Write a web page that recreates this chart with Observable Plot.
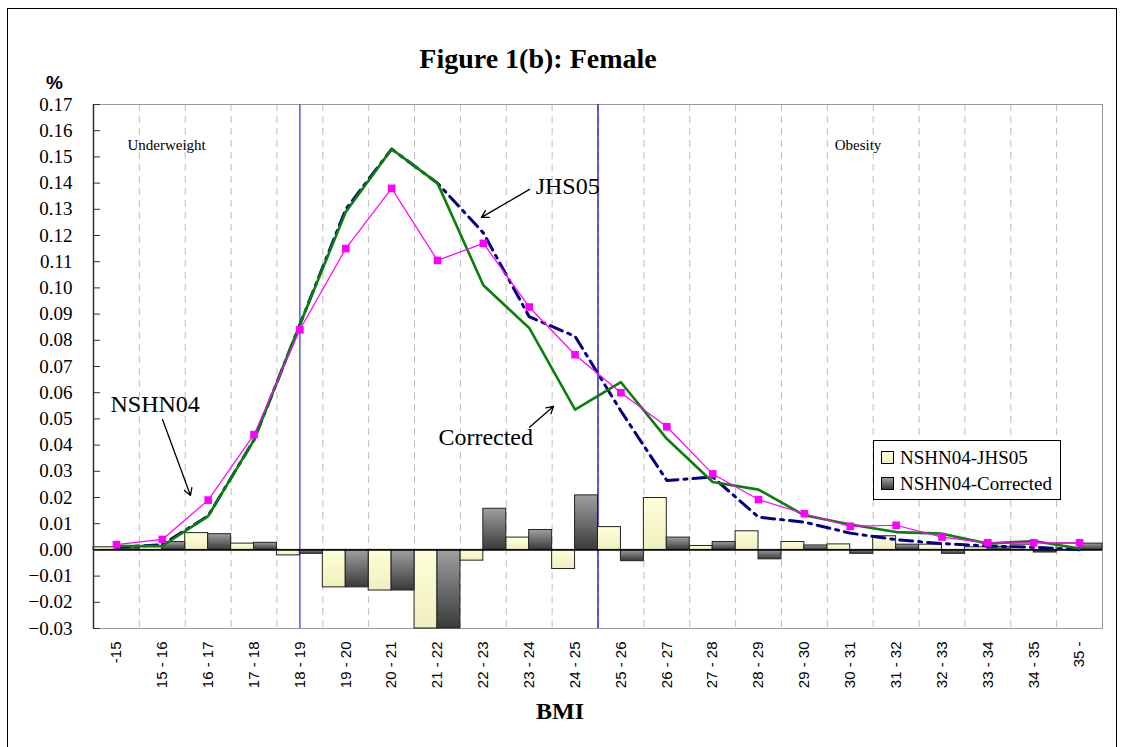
<!DOCTYPE html>
<html><head><meta charset="utf-8">
<script src="https://cdn.jsdelivr.net/npm/d3@7"></script>
<script src="https://cdn.jsdelivr.net/npm/@observablehq/plot@0.6"></script>
<style>
body{margin:0;background:#fff;overflow:hidden;}
#wrap{position:relative;width:1122px;height:747px;overflow:hidden;font-family:"Liberation Serif","Times New Roman",serif;background:#fff;}
#chart{position:absolute;left:0;top:0;}
#border{position:absolute;left:7px;top:8px;width:1110px;height:800px;border:1px solid #000;box-sizing:border-box;pointer-events:none;}
#title{position:absolute;left:0;width:1076px;top:43px;text-align:center;font-weight:bold;font-size:28px;line-height:32px;}
#pct{position:absolute;left:46px;top:72px;font-family:"Liberation Sans",Arial,sans-serif;font-weight:bold;font-size:19px;}
#legend{position:absolute;left:873px;top:440px;width:188px;height:60px;border:1px solid #000;background:#fff;box-sizing:border-box;font-size:19px;}
.li{position:absolute;left:7px;height:24px;line-height:24px;white-space:nowrap;}
.sw{display:inline-block;width:11px;height:11px;border:1px solid #000;vertical-align:middle;margin-right:6px;position:relative;top:-2px;}
</style></head>
<body>
<div id="wrap">
  <div id="chart"></div>
  <div id="title">Figure 1(b): Female</div>
  <div id="pct">%</div>
  <div id="legend">
    <div class="li" style="top:5px"><span class="sw" style="background:linear-gradient(#ffffd8,#efefc0)"></span>NSHN04-JHS05</div>
    <div class="li" style="top:31px"><span class="sw" style="background:linear-gradient(#a0a0a0,#3a3a3a)"></span>NSHN04-Corrected</div>
  </div>
  <div id="border"></div>
</div>
<script>
const categories = ["-15","15 - 16","16 - 17","17 - 18","18 - 19","19 - 20","20 - 21","21 - 22","22 - 23","23 - 24","24 - 25","25 - 26","26 - 27","27 - 28","28 - 29","29 - 30","30 - 31","31 - 32","32 - 33","33 - 34","34 - 35","35 -"];
const nshn04    = [0.002,0.004,0.019,0.044,0.084,0.115,0.138,0.1105,0.117,0.0927,0.0745,0.060,0.047,0.029,0.0192,0.0138,0.009,0.0094,0.0049,0.0027,0.0027,0.0027];
const corrected = [0.0015,0.0015,0.0129,0.042,0.086,0.129,0.153,0.140,0.101,0.0847,0.0535,0.064,0.0424,0.0259,0.023,0.0132,0.0097,0.0068,0.0062,0.0024,0.0034,0.0005];
const jhs05     = [0.001,0.002,0.013,0.042,0.086,0.130,0.153,0.140,0.121,0.089,0.0815,0.053,0.0265,0.0278,0.0125,0.0106,0.0064,0.0039,0.0024,0.0015,0.001,0.0001];
const diffJHS   = [0.001,0.001,0.0064,0.0024,-0.0021,-0.0143,-0.0155,-0.03,-0.0041,0.0047,-0.0073,0.0087,0.0198,0.0015,0.0071,0.003,0.0021,0.0052,0.002,0.001,0.002,0.0024];
const diffCorr  = [0.0012,0.003,0.006,0.0027,-0.0015,-0.0143,-0.0155,-0.03,0.0157,0.0076,0.0208,-0.0043,0.0047,0.003,-0.0036,0.0017,-0.0015,0.002,-0.0015,0.0012,-0.001,0.0024];
const yTicks = [-0.03,-0.02,-0.01,0,0.01,0.02,0.03,0.04,0.05,0.06,0.07,0.08,0.09,0.10,0.11,0.12,0.13,0.14,0.15,0.16,0.17];
// BMI cut-offs 18.5 and 25 expressed in category-index units
const cutoffs = [{pos:4.5, color:"#4a4aff"},{pos:11, color:"#1c1cd0"}];
const labelsSmall = [{label:"Underweight", x:0.74, y:0.1545},{label:"Obesity", x:16.16, y:0.1545}];
const labelsBig = [{label:"JHS05", x:9.64, y:0.1387},{label:"NSHN04", x:0.37, y:0.0555},{label:"Corrected", x:7.52, y:0.0429}];
const arrows = [{x1:9.507,y1:0.1376,x2:8.46,y2:0.1269},{x1:1.505,y1:0.0498,x2:2.115,y2:0.0208},{x1:9.507,y1:0.0468,x2:10.03,y2:0.0548}];

const rows = categories.map((c,i)=>({i, cat:c, nshn04:nshn04[i], corrected:corrected[i], jhs05:jhs05[i], dJ:diffJHS[i], dC:diffCorr[i]}));
const cx = d => d.i + 0.5;
const serif = "Liberation Serif, Times New Roman, serif";

const chart = Plot.plot({
  width:1122, height:747,
  marginLeft:93, marginRight:20, marginTop:104, marginBottom:119,
  x:{domain:[0,categories.length]},
  y:{domain:[-0.03,0.17]},
  style:{fontFamily:serif, background:"transparent", color:"#000"},
  marks:[
    Plot.ruleX(d3.range(1,categories.length), {stroke:"#bdbdbd", strokeDasharray:"7,5", strokeWidth:1}),
    Plot.frame({stroke:"#999"}),
    Plot.ruleX(cutoffs, {x:"pos", stroke:"color", strokeWidth:1.4}),
    Plot.rect(rows, {x1:d=>d.i, x2:d=>d.i+0.5, y1:0, y2:"dJ", fill:"url(#gYellow)", stroke:"#222", strokeWidth:1}),
    Plot.rect(rows, {x1:d=>d.i+0.5, x2:d=>d.i+1, y1:0, y2:"dC", fill:"url(#gDark)", stroke:"#222", strokeWidth:1}),
    Plot.ruleY([0], {stroke:"#000", strokeWidth:1.5}),
    Plot.ruleX([0], {stroke:"#333", strokeWidth:1.5}),
    Plot.line(rows, {x:cx, y:"jhs05", stroke:"#000080", strokeWidth:3, strokeDasharray:"13,6,3,6"}),
    Plot.line(rows, {x:cx, y:"corrected", stroke:"#0b7f0b", strokeWidth:2.6}),
    Plot.line(rows, {x:cx, y:"nshn04", stroke:"#ff00ff", strokeWidth:1.2}),
    Plot.dot(rows, {x:cx, y:"nshn04", symbol:"square", r:4.3, fill:"#ff00ff", stroke:"none"}),
    Plot.axisY({ticks:yTicks, tickFormat:d3.format(".2f"), tickSize:0, tickPadding:21, fontSize:19, fontFamily:serif, label:null}),
    Plot.axisY({ticks:yTicks, tickFormat:()=>"", tickSize:7, dx:7, label:null, stroke:"#333"}),
    Plot.axisX({ticks:rows.map(cx), tickFormat:d=>categories[Math.floor(d)], tickRotate:-90, tickSize:0, tickPadding:13, fontSize:15, fontFamily:"Liberation Sans, Arial, sans-serif", label:null}),
    Plot.text(["BMI"], {frameAnchor:"bottom", dx:-38, dy:90, text:d=>d, fontSize:24, fontWeight:"bold", fontFamily:serif}),
    Plot.text(labelsSmall, {x:"x", y:"y", text:"label", textAnchor:"start", fontSize:15, fontFamily:serif}),
    Plot.text(labelsBig, {x:"x", y:"y", text:"label", textAnchor:"start", fontSize:24, fontFamily:serif}),
    Plot.arrow(arrows, {x1:"x1", y1:"y1", x2:"x2", y2:"y2", stroke:"#000", strokeWidth:1.3, headLength:9})
  ]
});

const svg = d3.select(chart);
const defs = svg.insert("defs", ":first-child");
const gy = defs.append("linearGradient").attr("id","gYellow").attr("x1",0).attr("y1",0).attr("x2",0).attr("y2",1);
gy.append("stop").attr("offset","0%").attr("stop-color","#ffffd8");
gy.append("stop").attr("offset","100%").attr("stop-color","#efefc0");
const gd = defs.append("linearGradient").attr("id","gDark").attr("x1",0).attr("y1",0).attr("x2",0).attr("y2",1);
gd.append("stop").attr("offset","0%").attr("stop-color","#a0a0a0");
gd.append("stop").attr("offset","100%").attr("stop-color","#3a3a3a");

document.getElementById("chart").appendChild(chart);
</script>
</body></html>
